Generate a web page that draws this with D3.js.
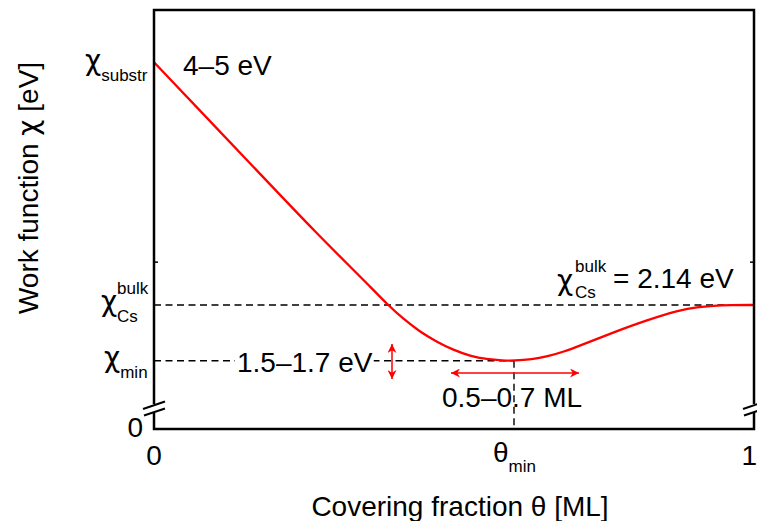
<!DOCTYPE html>
<html><head><meta charset="utf-8">
<script src="https://cdn.jsdelivr.net/npm/d3@7"></script>
<style>
html,body{margin:0;padding:0;background:#fff;}
svg{display:block;font-family:"Liberation Sans",Arial,Helvetica,sans-serif;}
.gr{font-family:"DejaVu Sans",sans-serif;}
</style></head>
<body>
<svg id="chart" width="757" height="521"></svg>
<script>
// Covering fraction θ [ML]
const theta = [0, 0.1, 0.2, 0.27, 0.33, 0.36, 0.39, 0.4155, 0.443, 0.471, 0.499, 0.527, 0.5545, 0.582, 0.6, 0.63, 0.655, 0.685, 0.71, 0.765, 0.822, 0.877, 0.905, 0.932, 0.96, 1.0];
// Work function (schematic units, broken axis)
const chi =   [6.33, 5.24, 4.15, 3.39, 2.77, 2.46, 2.14, 1.90, 1.68, 1.507, 1.363, 1.26, 1.203, 1.181, 1.179, 1.20, 1.25, 1.34, 1.44, 1.665, 1.881, 2.054, 2.105, 2.128, 2.14, 2.14];
const chiSubstr = 6.33, chiBulk = 2.14, chiMin = 1.179, thetaMin = 0.6;
const yTop = 7.232, minorTick = 2.88;

const svg = d3.select("#chart");
const x = d3.scaleLinear().domain([0, 1]).range([154, 754]);
const y = d3.scaleLinear().domain([0, yTop]).range([429, 10]);
const FS = 28, SUB = 17;

// arrow markers
const defs = svg.append("defs");
["s","e"].forEach(k=>{
  defs.append("marker").attr("id","arr"+k).attr("viewBox","0 0 10 10")
   .attr("refX", k==="e"?10:0).attr("refY",5).attr("markerWidth",12).attr("markerHeight",9)
   .attr("markerUnits","userSpaceOnUse").attr("orient","auto")
   .append("path").attr("d", k==="e"?"M0,0L10,5L0,10L3,5Z":"M10,0L0,5L10,10L7,5Z").attr("fill","#f00");
});

// dashed reference lines
function dline(x1,y1,x2,y2){
  svg.append("line").attr("x1",x1).attr("x2",x2).attr("y1",y1).attr("y2",y2)
    .attr("stroke","#000").attr("stroke-width",1.4).attr("stroke-dasharray","7,4.5");
}
dline(x(0), y(chiBulk), x(1), y(chiBulk));
dline(x(0), y(chiMin), x(thetaMin), y(chiMin));
dline(x(thetaMin), y(chiMin), x(thetaMin), y(0));

// curve
const line = d3.line().x((d,i)=>x(theta[i])).y(d=>y(d)).curve(d3.curveBasis);
svg.append("path").attr("d", line(chi)).attr("fill","none").attr("stroke","#f00").attr("stroke-width",2.3);

// frame (axes)
svg.append("rect").attr("x",x(0)).attr("y",y(yTop)).attr("width",x(1)-x(0)).attr("height",y(0)-y(yTop))
  .attr("stroke","#000").attr("stroke-width",2.5).attr("fill","none");
// minor ticks
[x(0), x(1)].forEach((xx,i)=>{
  svg.append("line").attr("x1",xx).attr("x2",xx+(i?-4:4)).attr("y1",y(minorTick)).attr("y2",y(minorTick))
    .attr("stroke","#000").attr("stroke-width",1.5);
});

// axis breaks
[x(0), x(1)].forEach(xx=>{
  svg.append("rect").attr("x",xx-3).attr("y",404).attr("width",6).attr("height",9).attr("fill","#fff");
  const g = svg.append("g").attr("stroke","#000").attr("stroke-width",2);
  g.append("line").attr("x1",xx-11).attr("y1",409).attr("x2",xx+11).attr("y2",401.5);
  g.append("line").attr("x1",xx-10).attr("y1",415.5).attr("x2",xx+11).attr("y2",408.5);
});

// text helper
function label(xp, yp, parts, anchor){
  const t = svg.append("text").attr("x",xp).attr("y",yp).attr("font-size",FS).attr("fill","#000")
    .attr("text-anchor", anchor||"start");
  parts.forEach(p=>{
    const s = t.append("tspan").text(p.t);
    if (p.fs) s.attr("font-size",p.fs);
    if (p.dy) s.attr("dy",p.dy);
    if (p.cls) s.attr("class",p.cls);
  });
  return t;
}

// y tick labels
label(85, 70, [{t:"χ",cls:"gr",fs:28},{t:"substr",fs:SUB,dy:11}]);
label(101, 311, [{t:"χ",cls:"gr",fs:28}]);
label(117, 294, [{t:"bulk",fs:SUB}]);
label(117, 322, [{t:"Cs",fs:SUB}]);
label(104, 367, [{t:"χ",cls:"gr",fs:28},{t:"min",fs:SUB,dy:11}]);
label(143, 437, [{t:"0"}], "end");

// x tick labels
label(x(0), 465, [{t:"0"}], "middle");
label(757, 465, [{t:"1"}], "end");
label(x(thetaMin)-21, 462, [{t:"θ"},{t:"min",fs:SUB,dy:10}]);

// axis titles
label(460, 516, [{t:"Covering fraction θ [ML]"}], "middle");
const yl = svg.append("text").attr("transform","translate(38,188) rotate(-90)").attr("text-anchor","middle")
  .attr("font-size",FS);
yl.append("tspan").text("Work function ");
yl.append("tspan").attr("class","gr").text("χ");
yl.append("tspan").text(" [eV]");

// annotations
label(183, 75, [{t:"4–5 eV"}]);
const t15 = label(237, 372, [{t:"1.5–1.7 eV"}]);
const bb = t15.node().getBBox();
svg.insert("rect", "text").attr("x",bb.x-2).attr("y",y(chiMin)-3).attr("width",bb.width+3).attr("height",6).attr("fill","#fff");
label(442, 407, [{t:"0.5–0.7 ML"}]);
label(557, 290, [{t:"χ",cls:"gr",fs:28}]);
label(575, 272, [{t:"bulk",fs:SUB}]);
label(575, 298, [{t:"Cs",fs:SUB}]);
label(613, 288, [{t:"= 2.14 eV"}]);

// red double arrows
svg.append("line").attr("x1",392).attr("x2",392).attr("y1",344).attr("y2",379)
  .attr("stroke","#f00").attr("stroke-width",1.5).attr("marker-start","url(#arrs)").attr("marker-end","url(#arre)");
svg.append("line").attr("x1",451).attr("x2",579).attr("y1",373).attr("y2",373)
  .attr("stroke","#f00").attr("stroke-width",1.5).attr("marker-start","url(#arrs)").attr("marker-end","url(#arre)");
</script>
</body></html>
